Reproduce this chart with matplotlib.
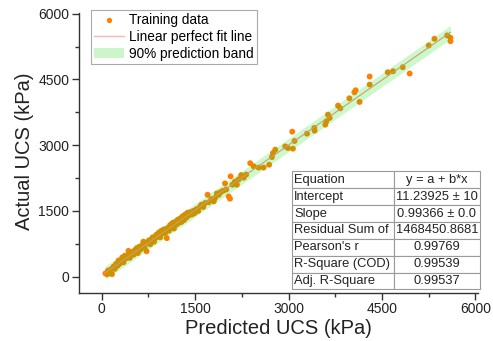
import numpy as np
import matplotlib
matplotlib.use("Agg")
import matplotlib.pyplot as plt
from matplotlib.patches import Patch
from matplotlib.lines import Line2D

plt.rcParams['font.family'] = ['Liberation Sans', 'DejaVu Sans']

# Predicted vs actual UCS (kPa), training set
predicted = [
    60, 85, 100, 120, 150, 165, 190, 210, 230, 255, 270, 290, 310, 330, 350,
    370, 390, 410, 430, 450, 470, 490, 510, 530, 560, 580, 600, 620, 650, 670,
    690, 720, 740, 760, 780, 800, 820, 840, 860, 880, 900, 920, 940, 960, 980,
    1000, 1020, 1045, 1060, 1080, 1100, 1120, 1140, 1160, 1180, 1200, 1220,
    1240, 1260, 1280, 1300, 1320, 1340, 1360, 1380, 1400, 1420, 1450, 1470,
    1490, 1520, 1550, 1580, 1600, 1630, 1660, 1700, 1720, 1760, 1800, 1820,
    1850, 1880, 1910, 1950, 1980, 2000, 2040, 2060, 2070, 2100, 2140, 2170,
    2200, 2240, 2280, 2320, 2385, 2440, 2520, 2600, 2690, 2734, 2750, 2787,
    2948, 2991, 3060, 3071, 3097, 3296, 3414, 3419, 3591, 3607, 3634, 3660,
    3795, 3832, 3977, 4057, 4078, 4142, 4303, 4303, 4593, 4679, 4834, 4946,
    5252, 5343, 5548, 5601, 5601,
]
actual = [
    75, 55, 140, 90, 170, 60, 230, 180, 290, 250, 370, 300, 350, 440, 330,
    480, 420, 470, 590, 430, 520, 560, 500, 600, 650, 540, 680, 620, 720, 800,
    660, 580, 770, 830, 740, 850, 900, 800, 880, 960, 920, 1010, 900, 1050, 990,
    1080, 1000, 880, 1110, 1050, 1180, 1130, 1230, 1100, 1250, 1190, 1300,
    1230, 1330, 1250, 1380, 1290, 1420, 1350, 1460, 1400, 1470, 1420, 1500,
    1450, 1540, 1500, 1600, 1640, 1590, 1680, 1870, 1700, 1770, 1720, 1800,
    1900, 1870, 1930, 1960, 2130, 1990, 1830, 1780, 2290, 2100, 2170, 2100,
    2220, 2320, 2260, 2330, 2590, 2520, 2490, 2490, 2555, 2731, 2822, 2898,
    2973, 2936, 3309, 2921, 3097, 3264, 3394, 3332, 3469, 3545, 3698, 3623,
    3904, 3842, 4071, 4208, 4254, 3988, 4567, 4384, 4665, 4688, 4780, 4636,
    5276, 5429, 5505, 5452, 5374,
]

x_ticks = [0, 1500, 3000, 4500, 6000]
y_ticks = [0, 1500, 3000, 4500, 6000]

fit_labels = ["Equation", "Intercept", "Slope", "Residual Sum of",
              "Pearson's r", "R-Square (COD)", "Adj. R-Square"]
fit_values = ["y = a + b*x", "11.23925 \u00b1 10", "0.99366 \u00b1 0.0",
              "1468450.8681", "0.99769", "0.99539", "0.99537"]

x = np.asarray(predicted, float)
y = np.asarray(actual, float)

# least-squares line and 90% prediction band
n = len(x)
b, a = np.polyfit(x, y, 1)
resid = y - (a + b * x)
s = np.sqrt(np.sum(resid ** 2) / (n - 2))
xbar = x.mean()
sxx = np.sum((x - xbar) ** 2)
t90 = 1.656
xs = np.linspace(x.min(), x.max(), 200)
yfit = a + b * xs
half = t90 * s * np.sqrt(1 + 1 / n + (xs - xbar) ** 2 / sxx)

fig = plt.figure(figsize=(4.93, 3.41), dpi=100)
ax = fig.add_axes([0.1602, 0.1416, 0.809, 0.8194])

orange = '#ff7f00'
ax.scatter(x, y, s=18, color=orange, edgecolors='none', zorder=2)
ax.plot(xs, yfit, color='#ff8c8c', lw=0.8, zorder=3)
ax.fill_between(xs, yfit - half, yfit + half, color='#00e000', alpha=0.2,
                lw=0, zorder=4)

ax.set_xlim(-365, 6040)
ax.set_ylim(-365, 6010)
ax.set_xticks(x_ticks)
ax.set_yticks(y_ticks)
ax.set_xticks([750, 2250, 3750, 5250], minor=True)
ax.set_yticks([750, 2250, 3750, 5250], minor=True)
for sp in ['top', 'right']:
    ax.spines[sp].set_visible(False)
for sp in ['left', 'bottom']:
    ax.spines[sp].set_linewidth(1.0)
    ax.spines[sp].set_color('#333333')
ax.tick_params(which='major', direction='out', length=5, width=1,
               labelsize=10, pad=2, colors='#333333', labelcolor='#222222')
ax.tick_params(which='minor', direction='out', length=3, width=1,
               colors='#333333')

ax.set_xlabel('Predicted UCS (kPa)', fontsize=14.5, labelpad=2, color='#222222')
ax.set_ylabel('Actual UCS (kPa)', fontsize=14.5, color='#222222')
ax.yaxis.set_label_coords(-0.113, 0.507)

handles = [
    Line2D([], [], ls='none', marker='o', ms=3.8, color=orange, mec='none'),
    Line2D([], [], color='#ffb3b3', lw=1.0),
    Patch(facecolor='#ccf5cc', edgecolor='none'),
]
labels = ['Training data', 'Linear perfect fit line', '90% prediction band']
leg = fig.legend(handles, labels, loc='upper left',
                 bbox_to_anchor=(90.7 / 493, 1 - 10 / 341), borderaxespad=0,
                 fontsize=9.8, frameon=True, fancybox=False, framealpha=1,
                 edgecolor='#aaaaaa', labelspacing=0.2, handlelength=2.2,
                 handletextpad=0.35, borderpad=0.25)
leg.get_frame().set_linewidth(0.8)

rows = [[lab, val] for lab, val in zip(fit_labels, fit_values)]
tbl = ax.table(cellText=rows, colWidths=[0.545, 0.455],
               bbox=[0.533, 0.012, 0.472, 0.422], zorder=6)
tbl.auto_set_font_size(False)
tbl.set_fontsize(9.3)
for (r, c), cell in tbl.get_celld().items():
    cell.set_edgecolor('#9a9a9a')
    cell.set_linewidth(0.8)
    cell.set_facecolor('white')
    cell.get_text().set_color('#222222')
    if c == 0:
        cell.get_text().set_ha('left')
        cell.PAD = 0.025
    else:
        cell.get_text().set_ha('center')
tbl.set_clip_on(False)

fig.savefig('out.png', dpi=100)
